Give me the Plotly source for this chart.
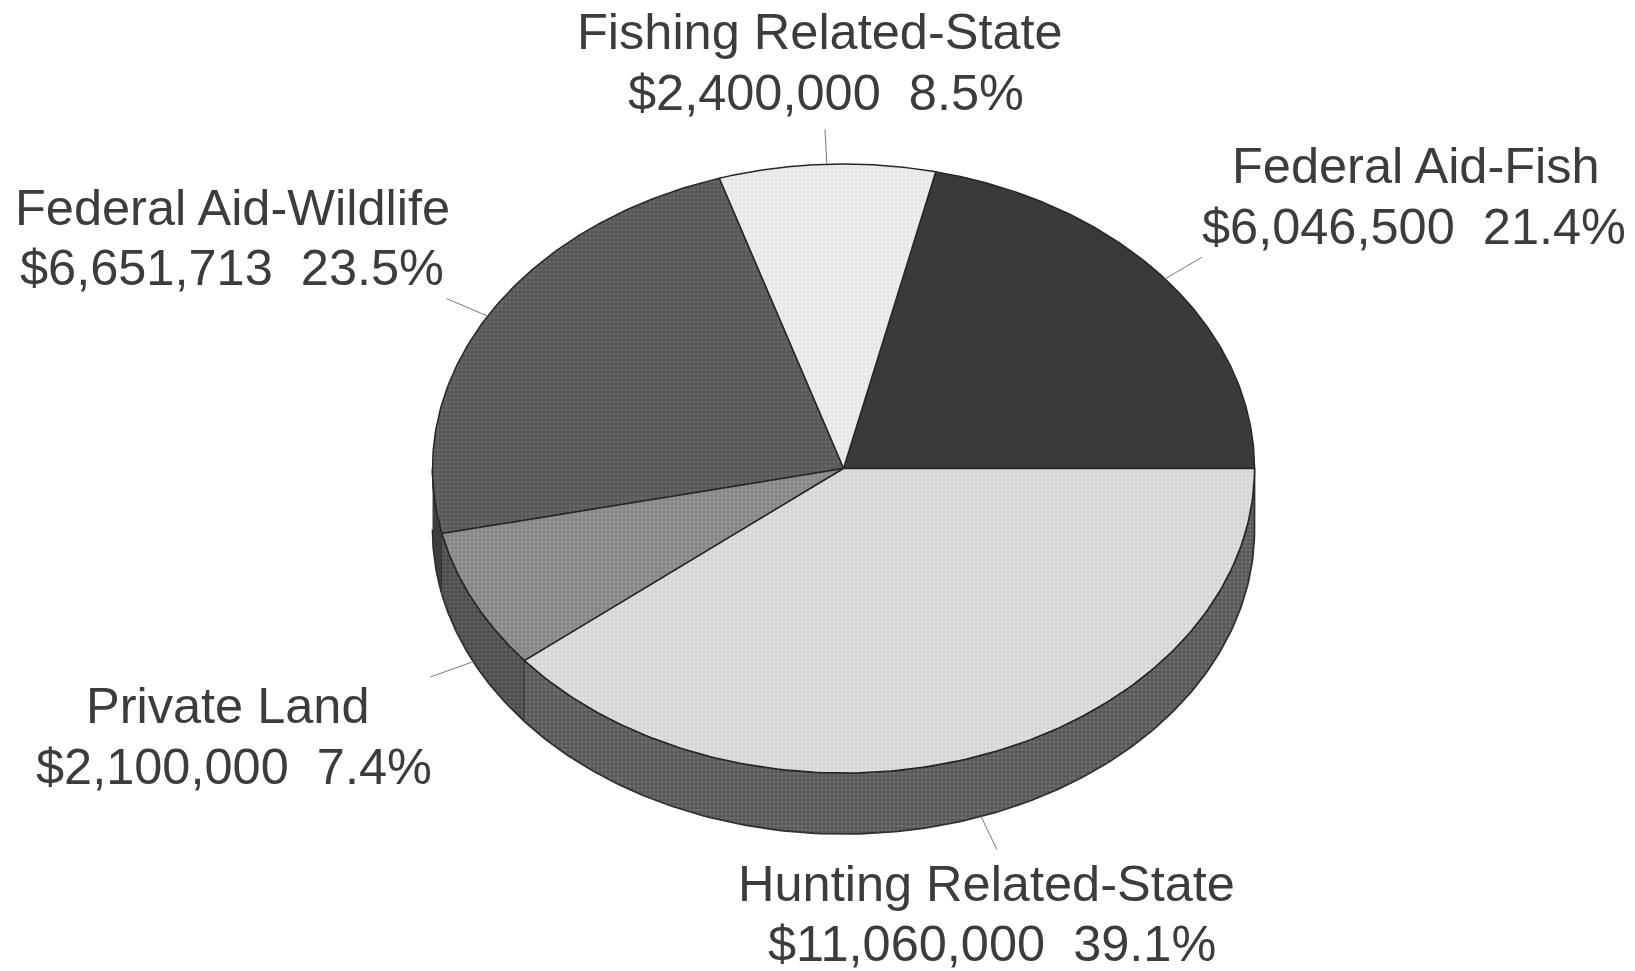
import numpy as np
import plotly.graph_objects as go

# ---- data ----
categories = ["Federal Aid-Fish", "Fishing Related-State", "Federal Aid-Wildlife",
              "Private Land", "Hunting Related-State"]
amounts = [6046500, 2400000, 6651713, 2100000, 11060000]
amount_labels = ["$6,046,500", "$2,400,000", "$6,651,713", "$2,100,000", "$11,060,000"]
percent_labels = ["21.4%", "8.5%", "23.5%", "7.4%", "39.1%"]

# ---- styles ----
slice_bg = ["#3a3a3a", "#e6e6e6", "#565656", "#868686", "#d4d4d4"]
slice_fg = ["#3a3a3a", "#f8f8f8", "#7a7a7a", "#a8a8a8", "#eeeeee"]
side_bg = [None, None, "#3e3e3e", "#4e4e4e", "#5a5a5a"]
side_fg = [None, None, "#3e3e3e", "#787878", "#888888"]
text_color = "#3c3c3c"
name_px = [1415.5, 820, 232.5, 228, 986.5]
name_py = [165, 31, 207, 705, 883]
amount_px = [1414, 826, 231.5, 233.5, 992]
amount_py = [226, 92, 267, 766, 943]
font_size = 50.5

W, H = 1635, 971
CX, CY, RX, RY, DEPTH = 843.5, 468.5, 411, 304.5, 61
LEADER = 1.115

pct = np.array(amounts, dtype=float)
pct = pct / pct.sum()
edges = 2 * np.pi * np.concatenate([[0], np.cumsum(pct)])
mids = (edges[:-1] + edges[1:]) / 2


def ex(t, r=1.0):
    return CX + r * RX * np.cos(t)


def ey(t, r=1.0, dz=0.0):
    return CY - r * RY * np.sin(t) + dz


fig = go.Figure()

# side wall, one panel per slice that reaches the front half
for i in range(len(categories)):
    lo, hi = max(edges[i], np.pi), min(edges[i + 1], 2 * np.pi)
    if hi <= lo:
        continue
    t = np.linspace(lo, hi, 160)
    fig.add_trace(go.Scatter(
        x=np.concatenate([ex(t), ex(t[::-1])]),
        y=np.concatenate([ey(t, dz=DEPTH), ey(t[::-1])]),
        mode="lines", fill="toself", fillcolor=side_bg[i],
        fillpattern=dict(shape=".", size=4, solidity=0.35,
                         bgcolor=side_bg[i], fgcolor=side_fg[i]),
        line=dict(color="#303030", width=1.8), hoverinfo="skip", showlegend=False))

# top slices
for i, name in enumerate(categories):
    t = np.linspace(edges[i], edges[i + 1], 160)
    fig.add_trace(go.Scatter(
        x=np.concatenate([[CX], ex(t), [CX]]),
        y=np.concatenate([[CY], ey(t), [CY]]),
        mode="lines", fill="toself", fillcolor=slice_bg[i],
        fillpattern=dict(shape=".", size=4, solidity=0.4,
                         bgcolor=slice_bg[i], fgcolor=slice_fg[i]),
        line=dict(color="#262626", width=1.5), name=name,
        hoverinfo="name", showlegend=False))

# leader lines
for i, m in enumerate(mids):
    dz = DEPTH if np.sin(m) < 0 else 0
    fig.add_trace(go.Scatter(
        x=[ex(m), ex(m, LEADER)], y=[ey(m, dz=dz), ey(m, LEADER, dz)],
        mode="lines", line=dict(color="#777777", width=1),
        hoverinfo="skip", showlegend=False))

for i, name in enumerate(categories):
    fig.add_annotation(
        x=name_px[i], y=name_py[i], xref="x", yref="y", text=name,
        showarrow=False, xanchor="center", yanchor="middle",
        font=dict(family="Liberation Sans", size=font_size, color=text_color))
    fig.add_annotation(
        x=amount_px[i], y=amount_py[i], xref="x", yref="y",
        text=f"{amount_labels[i]}  {percent_labels[i]}",
        showarrow=False, xanchor="center", yanchor="middle",
        font=dict(family="Liberation Sans", size=font_size, color=text_color))

fig.update_layout(
    width=W, height=H, margin=dict(l=0, r=0, t=0, b=0),
    paper_bgcolor="white", plot_bgcolor="white", showlegend=False,
    xaxis=dict(range=[0, W], visible=False, fixedrange=True),
    yaxis=dict(range=[H, 0], visible=False, fixedrange=True))

fig.write_html("out.html", config={"displayModeBar": False},
               post_script="document.body.style.margin='0';")
